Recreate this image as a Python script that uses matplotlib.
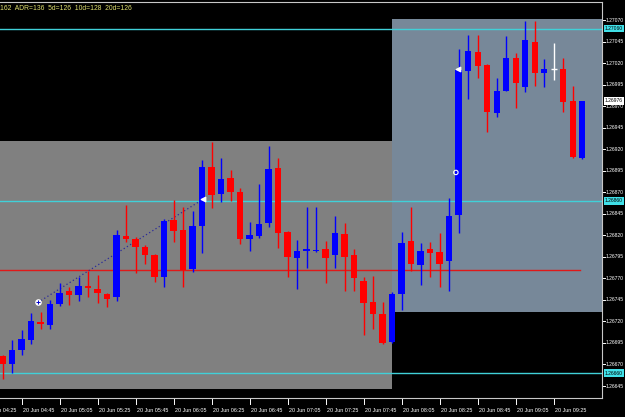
import matplotlib
matplotlib.use('Agg')
import matplotlib.pyplot as plt
import matplotlib.transforms as mtransforms
from matplotlib.patches import Rectangle

# ---- data: 5-minute bars, 20 Jun ----
times = ["04:35", "04:40", "04:45", "04:50", "04:55", "05:00", "05:05", "05:10", "05:15", "05:20",
         "05:25", "05:30", "05:35", "05:40", "05:45", "05:50", "05:55", "06:00", "06:05", "06:10",
         "06:15", "06:20", "06:25", "06:30", "06:35", "06:40", "06:45", "06:50", "06:55", "07:00",
         "07:05", "07:10", "07:15", "07:20", "07:25", "07:30", "07:35", "07:40", "07:45", "07:50",
         "07:55", "08:00", "08:05", "08:10", "08:15", "08:20", "08:25", "08:30", "08:35", "08:40",
         "08:45", "08:50", "08:55", "09:00", "09:05", "09:10", "09:15", "09:20", "09:25", "09:30",
         "09:35", "09:40"]
opens = [1.26680, 1.26670, 1.26687, 1.26698, 1.26719, 1.26716, 1.26740, 1.26755, 1.26751, 1.26761,
         1.26758, 1.26752, 1.26748, 1.26819, 1.26816, 1.26806, 1.26797, 1.26772, 1.26838, 1.26826,
         1.26781, 1.26831, 1.26899, 1.26868, 1.26886, 1.26870, 1.26816, 1.26819, 1.26834, 1.26898,
         1.26824, 1.26794, 1.26802, 1.26802, 1.26804, 1.26797, 1.26821, 1.26797, 1.26767, 1.26742,
         1.26729, 1.26696, 1.26752, 1.26813, 1.26785, 1.26804, 1.26801, 1.26790, 1.26844, 1.27011,
         1.27033, 1.27018, 1.26962, 1.26988, 1.27026, 1.26992, 1.27044, 1.27008, 1.27013, 1.27013,
         1.26976, 1.26910]
highs = [1.26681, 1.26698, 1.26710, 1.26730, 1.26731, 1.26745, 1.26765, 1.26760, 1.26772, 1.26778,
         1.26774, 1.26753, 1.26826, 1.26855, 1.26818, 1.26809, 1.26798, 1.26839, 1.26861, 1.26853,
         1.26848, 1.26907, 1.26928, 1.26910, 1.26896, 1.26875, 1.26835, 1.26880, 1.26924, 1.26910,
         1.26825, 1.26814, 1.26853, 1.26853, 1.26813, 1.26842, 1.26834, 1.26804, 1.26772, 1.26773,
         1.26742, 1.26754, 1.26824, 1.26853, 1.26811, 1.26812, 1.26823, 1.26863, 1.27036, 1.27053,
         1.27053, 1.27019, 1.27003, 1.27051, 1.27032, 1.27069, 1.27069, 1.27025, 1.27043, 1.27026,
         1.26993, 1.26976]
lows = [1.26653, 1.26660, 1.26681, 1.26694, 1.26711, 1.26711, 1.26738, 1.26739, 1.26744, 1.26748,
        1.26741, 1.26737, 1.26744, 1.26812, 1.26776, 1.26787, 1.26766, 1.26760, 1.26812, 1.26760,
        1.26777, 1.26799, 1.26852, 1.26859, 1.26860, 1.26810, 1.26802, 1.26817, 1.26830, 1.26805,
        1.26772, 1.26758, 1.26782, 1.26801, 1.26765, 1.26782, 1.26755, 1.26755, 1.26704, 1.26711,
        1.26694, 1.26695, 1.26733, 1.26778, 1.26762, 1.26772, 1.26760, 1.26755, 1.26823, 1.26978,
        1.27003, 1.26940, 1.26957, 1.26987, 1.26968, 1.26986, 1.26993, 1.26992, 1.27000, 1.26963,
        1.26910, 1.26909]
closes = [1.26670, 1.26687, 1.26700, 1.26720, 1.26717, 1.26740, 1.26753, 1.26751, 1.26761, 1.26759,
          1.26753, 1.26746, 1.26820, 1.26816, 1.26806, 1.26797, 1.26772, 1.26837, 1.26825, 1.26780,
          1.26831, 1.26899, 1.26867, 1.26885, 1.26870, 1.26816, 1.26820, 1.26833, 1.26897, 1.26823,
          1.26795, 1.26802, 1.26804, 1.26803, 1.26794, 1.26823, 1.26795, 1.26770, 1.26741, 1.26729,
          1.26695, 1.26752, 1.26811, 1.26787, 1.26802, 1.26799, 1.26787, 1.26842, 1.27012, 1.27034,
          1.27017, 1.26963, 1.26988, 1.27026, 1.26997, 1.27047, 1.27008, 1.27013, 1.27013, 1.26975,
          1.26911, 1.26976]

# horizontal levels
cyan_levels = [1.27060, 1.26860, 1.26660]
red_level = 1.26780
red_level_end = 60.8            # bar index where the red level ends
# zones (bar index start, bar index end, top price, bottom price)
zone_gray = (-5, 41, 1.26929, 1.26641)
zone_slate = (41, 70, 1.27071, 1.26731)
# trade markers (bar index, price)
trade1_open = (3.7, 1.26742)
trade1_close = (21.1, 1.26862)
trade2_open = (47.7, 1.26893)
trade2_close = (47.9, 1.27013)

price_ticks = [1.27070, 1.27045, 1.27020, 1.26995, 1.26970, 1.26945, 1.26920, 1.26895, 1.26870,
               1.26845, 1.26820, 1.26795, 1.26770, 1.26745, 1.26720, 1.26695, 1.26670, 1.26645]
price_labels = ["1.27070", "1.27045", "1.27020", "1.26995", "1.26970", "1.26945", "1.26920",
                "1.26895", "1.26870", "1.26845", "1.26820", "1.26795", "1.26770", "1.26745",
                "1.26720", "1.26695", "1.26670", "1.26645"]
current_price = 1.26976
time_tick_index = [-2, 2, 6, 10, 14, 18, 22, 26, 30, 34, 38, 42, 46, 50, 54, 58]
time_tick_labels = ["20 Jun 04:25", "20 Jun 04:45", "20 Jun 05:05", "20 Jun 05:25", "20 Jun 05:45",
                    "20 Jun 06:05", "20 Jun 06:25", "20 Jun 06:45", "20 Jun 07:05", "20 Jun 07:25",
                    "20 Jun 07:45", "20 Jun 08:05", "20 Jun 08:25", "20 Jun 08:45", "20 Jun 09:05",
                    "20 Jun 09:25"]
header = "162  ADR=136  5d=126  10d=128  20d=126"

# ---- figure ----
W, H = 625, 417
fig = plt.figure(figsize=(W / 100, H / 100), dpi=100, facecolor='black')
ax_top_px, ax_bot_px, ax_right_px = 2, 398, 602
ax = fig.add_axes([0, 1 - ax_bot_px / H, ax_right_px / W, (ax_bot_px - ax_top_px) / H])
ax.set_facecolor('black')
ax.set_xlim(-0.284, 63.08)
ax.set_ylim(1.266311, 1.270909)
ax.set_xticks([])
ax.set_yticks([])
for s in ['top', 'right', 'bottom']:
    ax.spines[s].set_color('#c8c8c8')
    ax.spines[s].set_linewidth(0.8)
ax.spines['left'].set_visible(False)

font = 'Liberation Sans'

# zones
for (x0, x1, top, bot), col in [(zone_gray, '#808080'), (zone_slate, '#778899')]:
    ax.add_patch(Rectangle((x0, bot), x1 - x0, top - bot, facecolor=col, edgecolor='none', zorder=1))

# levels
for lv in cyan_levels:
    ax.axhline(lv, color='#40d0d8', lw=1.0, zorder=2)
ax.plot([-1, red_level_end], [red_level, red_level], color='#e01818', lw=1.0, zorder=2)

# trade line
ax.plot([trade1_open[0], trade1_close[0]], [trade1_open[1], trade1_close[1]],
        color='#2a2a9a', lw=0.9, ls=(0, (1, 2)), zorder=3)

# candles
min_h = 0.000012
for i, (o, h, l, c) in enumerate(zip(opens, highs, lows, closes)):
    if c > o:
        col = '#0000ff'
    elif c < o:
        col = '#ff0000'
    else:
        col = '#ffffff'
    ax.vlines(i, l, h, color=col, lw=1.0, zorder=4)
    if col == '#ffffff':
        ax.hlines(o, i - 0.34, i + 0.34, color=col, lw=1.0, zorder=5)
    else:
        bot = min(o, c)
        hgt = max(abs(c - o), min_h)
        ax.add_patch(Rectangle((i - 0.34, bot), 0.68, hgt, facecolor=col, edgecolor='none', zorder=5))

# trade markers
ax.scatter([trade1_open[0]], [trade1_open[1]], s=14, c='white', edgecolors='white', zorder=6)
ax.scatter([trade1_open[0]], [trade1_open[1]], s=8, marker='+', c='#0000cc', linewidths=0.7, zorder=7)
ax.scatter([trade1_close[0]], [trade1_close[1]], s=10, marker='<', c='white', zorder=6)
ax.scatter([trade2_open[0]], [trade2_open[1]], s=10, facecolors='none', edgecolors='white',
           linewidths=0.8, zorder=6)
ax.scatter([trade2_close[0]], [trade2_close[1]], s=10, marker='<', c='white', zorder=6)

# header text
fig.text(0.5 / W, 1 - 8.5 / H, header, color='#e0e070', fontsize=4.9, family=font,
         ha='left', va='center')

# right price axis
tr_right = mtransforms.blended_transform_factory(fig.transFigure, ax.transData)
for p, lab in zip(price_ticks, price_labels):
    ax.plot([ax_right_px / W, (ax_right_px + 3) / W], [p, p], transform=tr_right, color='white',
            lw=0.7, clip_on=False)
    ax.text(606 / W, p, lab, transform=tr_right, color='white', fontsize=3.6, family=font,
            ha='left', va='center', clip_on=False)
for lv in cyan_levels:
    ax.text(605 / W, lv, f"{lv:.5f}", transform=tr_right, color='black', fontsize=3.6, family=font,
            ha='left', va='center', clip_on=False,
            bbox=dict(boxstyle='square,pad=0.25', facecolor='#40e0e8', edgecolor='none'))
ax.text(605 / W, current_price, f"{current_price:.5f}", transform=tr_right, color='black',
        fontsize=3.6, family=font, ha='left', va='center', clip_on=False,
        bbox=dict(boxstyle='square,pad=0.25', facecolor='white', edgecolor='none'), zorder=10)

# time axis
tr_time = mtransforms.blended_transform_factory(ax.transData, fig.transFigure)
for xi, lab in zip(time_tick_index, time_tick_labels):
    ax.plot([xi, xi], [1 - 399 / H, 1 - 404 / H], transform=tr_time, color='white', lw=0.7,
            clip_on=False)
    ax.text(xi + 0.1, 1 - 410.5 / H, lab, transform=tr_time, color='white', fontsize=3.9,
            family=font, ha='left', va='center', clip_on=False)

fig.savefig('out.png', dpi=100, facecolor='black')
